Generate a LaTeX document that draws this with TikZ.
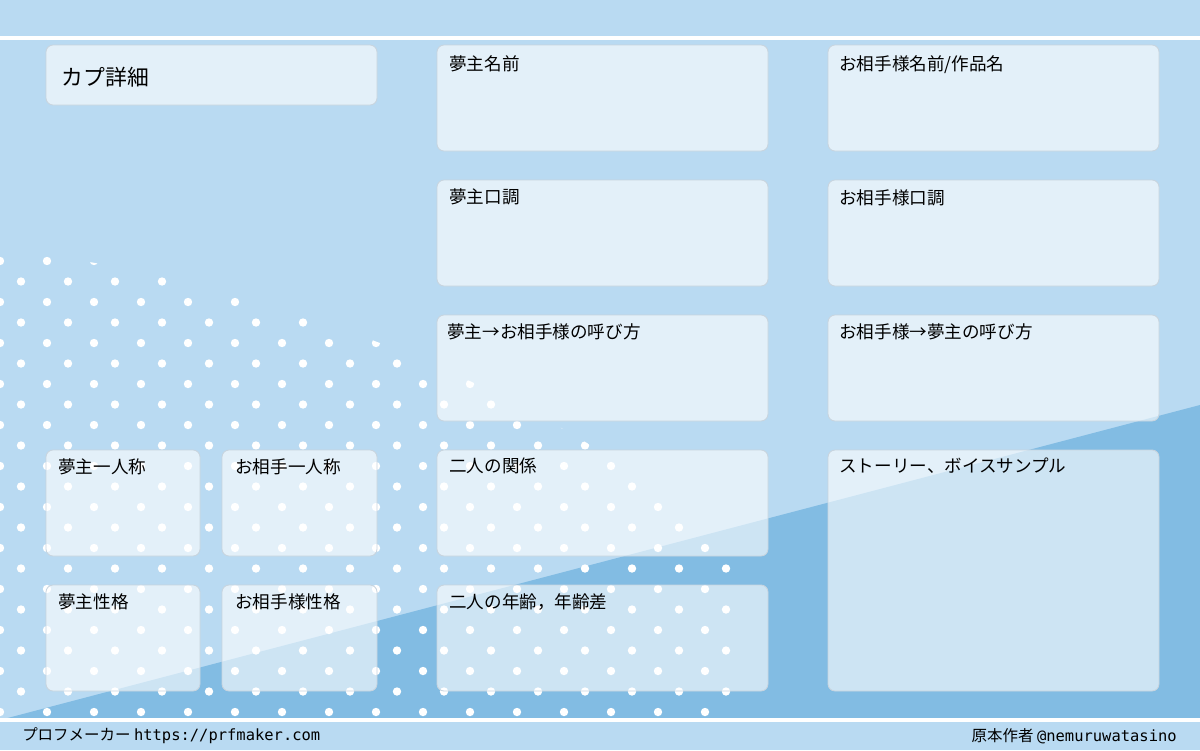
\documentclass[tikz,border=0pt]{standalone}
\usepackage{fontspec}
\setmainfont{Noto Sans CJK JP}
\setmonofont{DejaVu Sans Mono}
\usepackage{tikz}
\definecolor{bgblue}{HTML}{B9DAF2}
\definecolor{darkblue}{HTML}{82BCE3}
\definecolor{boxline}{HTML}{C8D4DE}
\tikzset{
	card/.style={draw=boxline, fill=white, fill opacity=0.6, text opacity=1, rounded corners=5pt, line width=0.6pt},
	cardtext/.style={anchor=north west, font=\fontsize{12.5}{14}\selectfont, inner sep=0pt},
	dot/.style={fill=white}
}
\begin{document}
\begin{tikzpicture}[x=0.025cm, y=-0.025cm]
		\useasboundingbox (0,0) rectangle (1200,750);
		\fill[bgblue] (0,0) rectangle (1200,750);
		\fill[darkblue] (0,720) -- (1200,405) -- (1200,720) -- cycle;
		\draw[white, line width=3pt] (0,38) -- (1200,38);
		\draw[white, line width=3pt] (0,720) -- (1200,720);

		% polka dots
		\begin{scope}
			\clip (0,250) .. controls (220,270) and (560,380) .. (740,560) -- (740,718) -- (0,718) -- cycle;
			\foreach \r in {0,...,22} {
				\pgfmathsetmacro{\yy}{261+20.5*\r}
				\pgfmathsetmacro{\off}{mod(\r,2)==0 ? 0 : 21}
				\foreach \c in {0,...,16}
					\fill[dot] (\off+47*\c,\yy) circle (4.2);
			}
		\end{scope}

		% cards
		\draw[card] (46,45) rectangle (377,105);
		\node[anchor=west, font=\fontsize{15.5}{17}\selectfont] (title) at (57,77) {カプ詳細};

		\draw[card] (437,45) rectangle (768,151);
		\node[cardtext] (yumename) at (449,55) {夢主名前};
		\draw[card] (437,180) rectangle (768,286);
		\node[cardtext] (yumetone) at (449,188) {夢主口調};
		\draw[card] (437,315) rectangle (768,421);
		\node[cardtext] (yumecall) at (447,323) {夢主→お相手様の呼び方};
		\draw[card] (437,450) rectangle (768,556);
		\node[cardtext] (relation) at (449,458) {二人の関係};
		\draw[card] (437,585) rectangle (768,691);
		\node[cardtext] (age) at (449,593) {二人の年齢，年齢差};

		\draw[card] (828,45) rectangle (1159,151);
		\node[cardtext] (ainame) at (839,55) {お相手様名前/作品名};
		\draw[card] (828,180) rectangle (1159,286);
		\node[cardtext] (aitone) at (839,189) {お相手様口調};
		\draw[card] (828,315) rectangle (1159,421);
		\node[cardtext] (aicall) at (839,323) {お相手様→夢主の呼び方};
		\draw[card] (828,450) rectangle (1159,691);
		\node[cardtext] (story) at (839,458) {ストーリー、ボイスサンプル};

		\draw[card] (46,450) rectangle (200,556);
		\node[cardtext] (yumefirst) at (58,458) {夢主一人称};
		\draw[card] (222,450) rectangle (377,556);
		\node[cardtext] (aifirst) at (235,458) {お相手一人称};
		\draw[card] (46,585) rectangle (200,691);
		\node[cardtext] (yumechar) at (58,593) {夢主性格};
		\draw[card] (222,585) rectangle (377,691);
		\node[cardtext] (aichar) at (235,593) {お相手様性格};

		% footer
		\node[anchor=west, font=\fontsize{11}{12}\selectfont, inner sep=0pt] (maker) at (22,736) {プロフメーカー \texttt{https://prfmaker.com}};
		\node[anchor=east, font=\fontsize{11}{12}\selectfont, inner sep=0pt] (author) at (1177,736) {原本作者 \texttt{@nemuruwatasino}};
	\end{tikzpicture}
\end{document}
